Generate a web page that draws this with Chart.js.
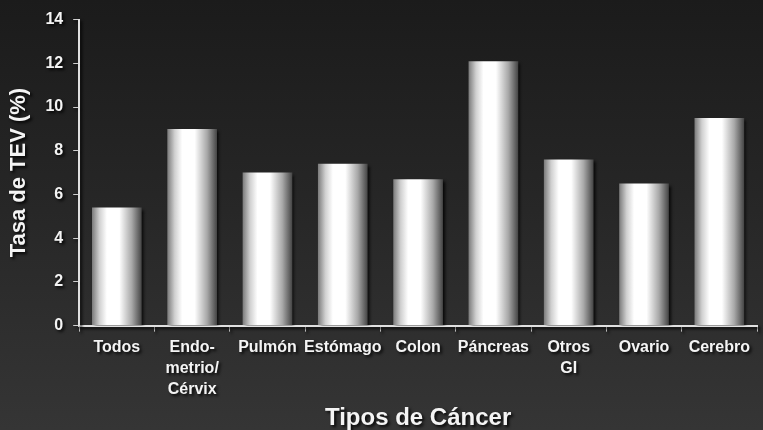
<!DOCTYPE html>
<html>
<head>
<meta charset="utf-8">
<script src="https://cdn.jsdelivr.net/npm/chart.js@4.4.1/dist/chart.umd.min.js"></script>
<style>
    html, body { margin: 0; padding: 0; }
    body {
        width: 763px; height: 430px; overflow: hidden;
        background: linear-gradient(to bottom, #1b1b1b 0%, #262626 45%, #353535 100%);
    }
    #wrap { position: relative; width: 763px; height: 430px; }
</style>
</head>
<body>
<div id="wrap"><canvas id="tevChart" width="763" height="430"></canvas></div>
<script>
// Categories and values
const categories = [
    'Todos',
    ['Endo-', 'metrio/', 'Cérvix'],
    'Pulmón',
    'Estómago',
    'Colon',
    'Páncreas',
    ['Otros', 'GI'],
    'Ovario',
    'Cerebro'
];
const tevRates = [5.4, 9.0, 7.0, 7.4, 6.7, 12.1, 7.6, 6.5, 9.5];
const yTicks = [0, 2, 4, 6, 8, 10, 12, 14];

// Shadow for text and bars, like the slide
const shadowPlugin = {
    id: 'shadow',
    beforeDraw(chart) {
        const c = chart.ctx;
        c.shadowColor = 'rgba(0,0,0,0.85)';
        c.shadowOffsetX = 2;
        c.shadowOffsetY = 2;
        c.shadowBlur = 3;
    }
};

// Cylinder-like horizontal gradient on each bar (own options object per bar)
const barGradient = {
    id: 'barGradient',
    beforeDatasetsDraw(chart) {
        const c = chart.ctx;
        chart.getDatasetMeta(0).data.forEach(bar => {
            const left = bar.x - bar.width / 2;
            const g = c.createLinearGradient(left, 0, left + bar.width, 0);
            g.addColorStop(0, '#7a7a7a');
            g.addColorStop(0.15, '#d0d0d0');
            g.addColorStop(0.3, '#ffffff');
            g.addColorStop(0.55, '#ffffff');
            g.addColorStop(0.8, '#a8a8a8');
            g.addColorStop(1, '#444444');
            const opts = Object.assign({}, bar.options);
            opts.backgroundColor = g;
            bar.options = opts;
        });
    }
};

const fontFamily = 'Liberation Sans, Arial, sans-serif';

const ctx = document.getElementById('tevChart').getContext('2d');
const tevChart = new Chart(ctx, {
    type: 'bar',
    data: {
        labels: categories,
        datasets: [{
            label: 'Tasa de TEV',
            data: tevRates,
            backgroundColor: '#ffffff',
            borderWidth: 0,
            barPercentage: 0.75,
            categoryPercentage: 0.88
        }]
    },
    options: {
        responsive: false,
        animation: false,
        layout: { padding: { top: 12, right: 6, left: 6, bottom: 0 } },
        plugins: {
            legend: { display: false },
            tooltip: { enabled: false }
        },
        scales: {
            x: {
                grid: {
                    display: true,
                    drawOnChartArea: false,
                    drawTicks: true,
                    tickLength: 6,
                    color: '#cfcfcf',
                    offset: true
                },
                border: { display: true, color: '#e0e0e0', width: 2 },
                ticks: {
                    color: '#f4f4f4',
                    maxRotation: 0,
                    autoSkip: false,
                    padding: 6,
                    font: { family: fontFamily, size: 16, weight: 'bold', lineHeight: 1.3 }
                },
                title: {
                    display: true,
                    text: 'Tipos de Cáncer',
                    color: '#f4f4f4',
                    padding: { top: 0, bottom: 0 },
                    font: { family: fontFamily, size: 24, weight: 'bold', lineHeight: 1.0 }
                }
            },
            y: {
                min: 0,
                max: 14,
                afterBuildTicks(axis) {
                    axis.ticks = yTicks.map(v => ({ value: v }));
                },
                grid: {
                    display: true,
                    drawOnChartArea: false,
                    drawTicks: true,
                    tickLength: 6,
                    color: '#cfcfcf'
                },
                border: { display: true, color: '#e0e0e0', width: 2 },
                ticks: {
                    color: '#f4f4f4',
                    padding: 10,
                    font: { family: fontFamily, size: 16, weight: 'bold' }
                },
                title: {
                    display: true,
                    text: 'Tasa de TEV (%)',
                    color: '#f4f4f4',
                    padding: { top: 0, bottom: 3 },
                    font: { family: fontFamily, size: 22, weight: 'bold' }
                }
            }
        }
    },
    plugins: [shadowPlugin, barGradient]
});
</script>
</body>
</html>
